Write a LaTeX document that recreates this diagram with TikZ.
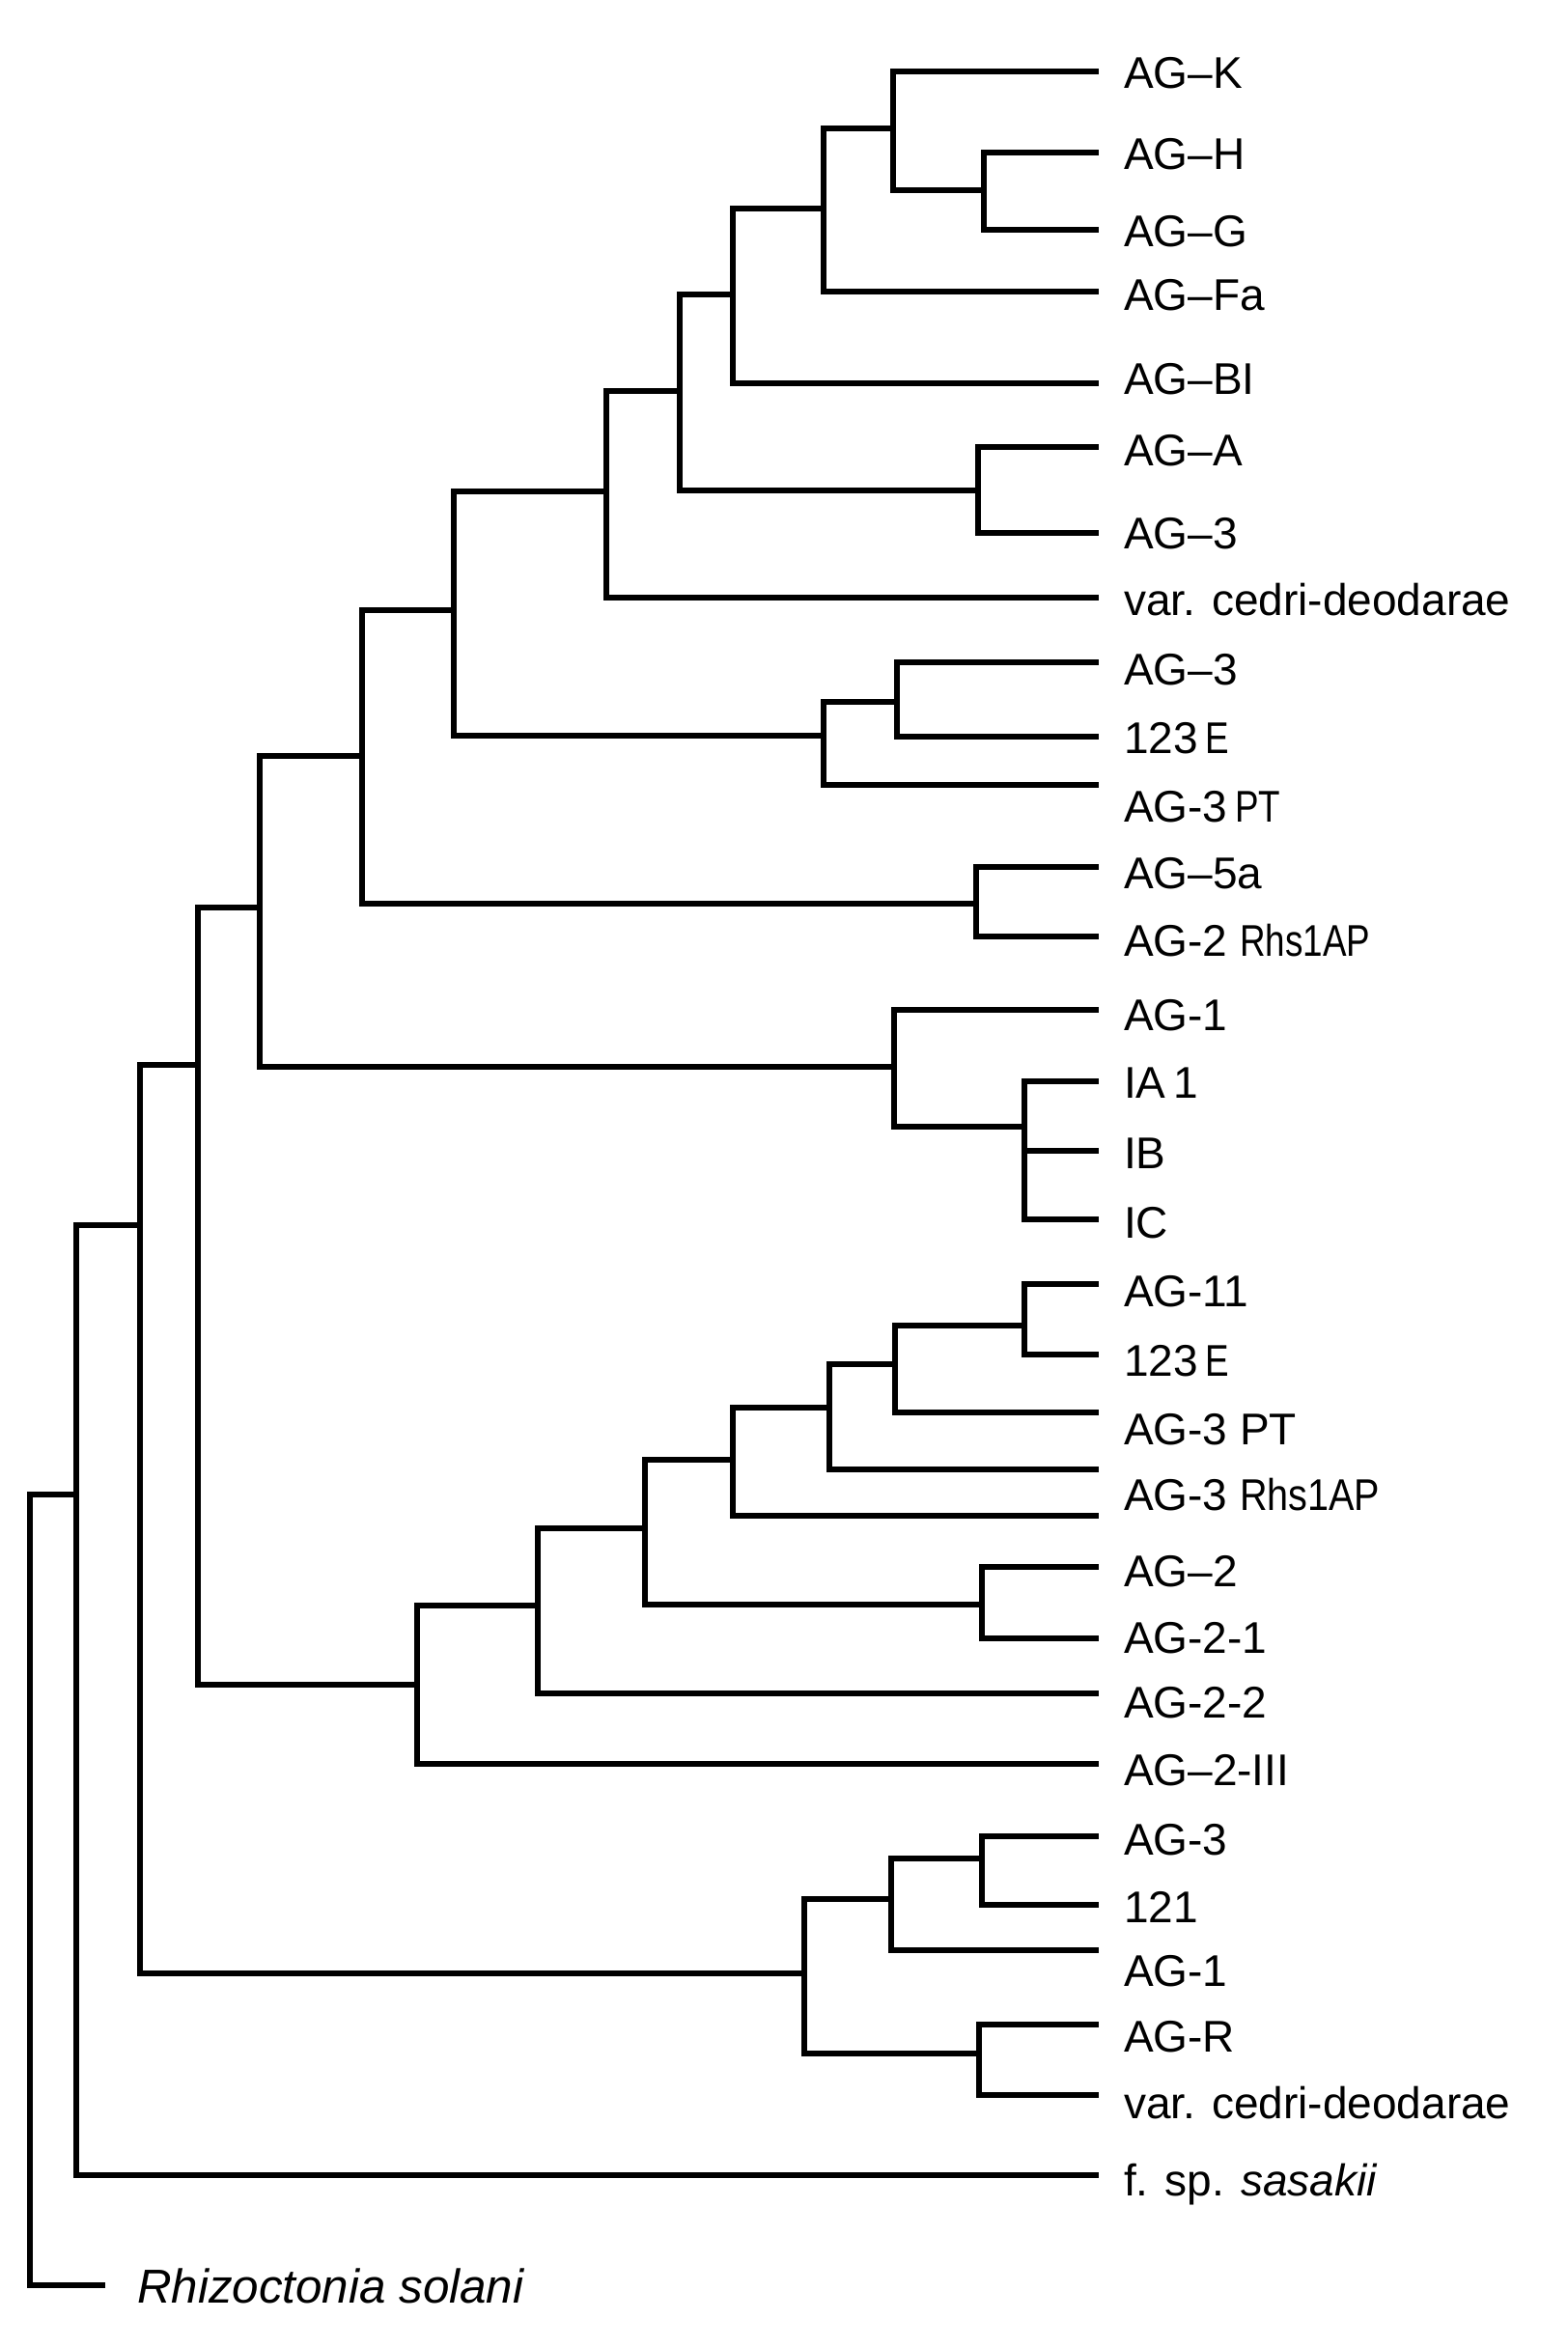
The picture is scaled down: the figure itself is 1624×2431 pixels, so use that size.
\documentclass[tikz,border=0pt]{standalone}
\usepackage{fontspec}
\usepackage{graphicx}
\setmainfont{Liberation Sans}
\newcommand{\cnd}[1]{\scalebox{0.8}[1]{#1}}
\newcommand{\cndb}[1]{\scalebox{0.86}[1]{#1}}
\begin{document}
\begin{tikzpicture}[x=0.3pt,y=-0.3pt,
  br/.style={line width=1.75pt,line cap=rect,line join=miter},
  lab/.style={anchor=base west,inner sep=0pt,outer sep=0pt,font=\fontsize{13.8}{16}\selectfont}]
\useasboundingbox (0,0) rectangle (1624,2431);
% leaves
\foreach \n/\y in {lK/74,lH/158,lG/238,lFa/302,lBI/397,lA/463,l3a/552,lvca/619,l3b/686,l123a/763,lPTa/813,l5a/898,l2R/970,l1a/1046,lIA/1120,lIB/1192,lIC/1263,l11/1330,l123b/1403,lPTb/1463,lxa/1522,lxb/1570,l2/1623,l21/1697,l22/1754,l2III/1827,l3c/1902,l121/1973,l1b/2020,lR/2097,lvcb/2170,lsas/2253}
  \coordinate (\n) at (1135,\y);
\coordinate (lrs) at (106,2367);
% internal nodes (x, link y)
\coordinate (nHG) at (1019,197);
\coordinate (nK) at (925,133);
\coordinate (nFa) at (853,216);
\coordinate (nBI) at (759,305);
\coordinate (nA3) at (1013,508);
\coordinate (nC) at (704,405);
\coordinate (nVC) at (628,509);
\coordinate (n3E) at (929,727);
\coordinate (nPT) at (853,762);
\coordinate (nT) at (470,632);
\coordinate (n5a) at (1011,936);
\coordinate (nU) at (375,783);
\coordinate (nI) at (1061,1167);
\coordinate (n1) at (926,1105);
\coordinate (nV) at (269,940);
\coordinate (n11) at (1061,1373);
\coordinate (nP) at (927,1413);
\coordinate (nQ) at (859,1458);
\coordinate (nW) at (759,1512);
\coordinate (n2) at (1017,1662);
\coordinate (nX) at (668,1583);
\coordinate (nY) at (557,1663);
\coordinate (nZ) at (432,1745);
\coordinate (nM) at (205,1103);
\coordinate (n121) at (1017,1925);
\coordinate (nN) at (923,1967);
\coordinate (nR) at (1014,2127);
\coordinate (nO) at (833,2044);
\coordinate (nL) at (145,1269);
\coordinate (nS) at (79,1548);
\coordinate (root) at (31,1548);
% branches
\foreach \p/\c in {nHG/lH,nHG/lG,nK/lK,nK/nHG,nFa/nK,nFa/lFa,nBI/nFa,nBI/lBI,
  nA3/lA,nA3/l3a,nC/nBI,nC/nA3,nVC/nC,nVC/lvca,n3E/l3b,n3E/l123a,nPT/n3E,nPT/lPTa,
  nT/nVC,nT/nPT,n5a/l5a,n5a/l2R,nU/nT,nU/n5a,nI/lIA,nI/lIB,nI/lIC,n1/l1a,n1/nI,
  nV/nU,nV/n1,n11/l11,n11/l123b,nP/n11,nP/lPTb,nQ/nP,nQ/lxa,nW/nQ,nW/lxb,
  n2/l2,n2/l21,nX/nW,nX/n2,nY/nX,nY/l22,nZ/nY,nZ/l2III,nM/nV,nM/nZ,
  n121/l3c,n121/l121,nN/n121,nN/l1b,nR/lR,nR/lvcb,nO/nN,nO/nR,
  nL/nM,nL/nO,nS/nL,nS/lsas,root/nS,root/lrs}
  \draw[br] (\p) |- (\c);
% labels
\node[lab] (tK) at (1164,92) {AG–K};
\node[lab] (tH) at (1164,176) {AG–H};
\node[lab] (tG) at (1164,256) {AG–G};
\node[lab] (tFa) at (1164,322) {AG–Fa};
\node[lab] (tBI) at (1164,409) {AG–BI};
\node[lab] (tA) at (1164,483) {AG–A};
\node[lab] (t3a) at (1164,569) {AG–3};
\node[lab] (tvca) at (1164,638) {var. cedri-deodarae};
\node[lab] (t3b) at (1164,709) {AG–3};
\node[lab] (t123a) at (1164,780) {123\,\cnd{E}};
\node[lab] (tPTa) at (1164,851) {AG-3\,\cnd{PT}};
\node[lab] (t5a) at (1164,920) {AG–5a};
\node[lab] (t2R) at (1164,990) {AG-2 \cnd{Rhs1AP}};
\node[lab] (t1a) at (1164,1067) {AG-1};
\node[lab] (tIA) at (1164,1137) {IA\,1};
\node[lab] (tIB) at (1164,1210) {IB};
\node[lab] (tIC) at (1164,1282) {IC};
\node[lab] (t11) at (1164,1353) {AG-11};
\node[lab] (t123b) at (1164,1425) {123\,\cnd{E}};
\node[lab] (tPTb) at (1164,1496) {AG-3 PT};
\node[lab] (tRh) at (1164,1564) {AG-3 \cndb{Rhs1AP}};
\node[lab] (t2) at (1164,1643) {AG–2};
\node[lab] (t21) at (1164,1712) {AG-2-1};
\node[lab] (t22) at (1164,1779) {AG-2-2};
\node[lab] (t2III) at (1164,1849) {AG–2-III};
\node[lab] (t3c) at (1164,1921) {AG-3};
\node[lab] (t121) at (1164,1991) {121};
\node[lab] (t1b) at (1164,2057) {AG-1};
\node[lab] (tR) at (1164,2125) {AG-R};
\node[lab] (tvcb) at (1164,2194) {var. cedri-deodarae};
\node[lab] (tsas) at (1164,2274) {f. sp. \textit{sasakii}};
\node[lab,font=\fontsize{14.8}{17}\selectfont] (trs) at (142,2385) {\textit{Rhizoctonia solani}};
\end{tikzpicture}
\end{document}
